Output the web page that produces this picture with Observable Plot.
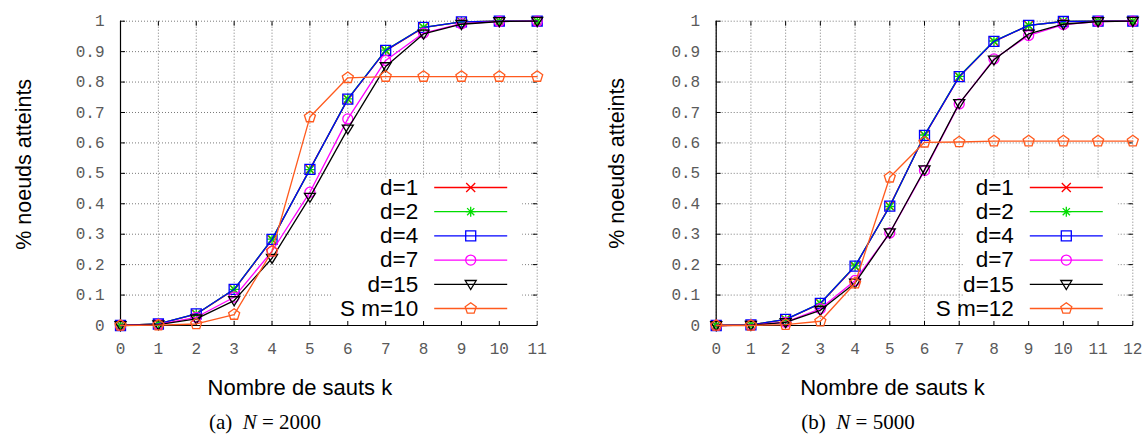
<!DOCTYPE html>
<html><head><meta charset="utf-8">
<script src="https://cdn.jsdelivr.net/npm/d3@7"></script>
<script src="https://cdn.jsdelivr.net/npm/@observablehq/plot@0.6"></script>
<style>
body{margin:0;background:#fff;}
#wrap{position:relative;width:1148px;height:435px;overflow:hidden;background:#fff;}
.panel{position:absolute;top:0;}
.cap{position:absolute;top:412px;font-family:"Liberation Serif","Times New Roman",serif;font-size:21px;line-height:21px;white-space:nowrap;transform:translateX(-50%);color:#000;}
</style></head><body>
<div id="wrap">
  <div id="left" class="panel" style="left:0px"></div>
  <div id="right" class="panel" style="left:574px"></div>
  <div class="cap" style="left:265px">(a)&nbsp; <i>N</i> = 2000</div>
  <div class="cap" style="left:858px">(b)&nbsp; <i>N</i> = 5000</div>
</div>
<script>
// ---------- data ----------
const hopsA = [0,1,2,3,4,5,6,7,8,9,10,11];
const d1A  = [0, 0.005, 0.037, 0.118, 0.282, 0.514, 0.743, 0.903, 0.979, 0.998, 1, 1];
const d2A  = [0, 0.005, 0.038, 0.119, 0.284, 0.512, 0.745, 0.905, 0.980, 0.998, 1, 1];
const d4A  = [0, 0.005, 0.038, 0.119, 0.283, 0.513, 0.744, 0.904, 0.980, 0.998, 1, 1];
const d7A  = [0, 0.004, 0.027, 0.093, 0.244, 0.438, 0.679, 0.871, 0.961, 0.992, 0.999, 1];
const d15A = [0, 0.003, 0.022, 0.082, 0.221, 0.422, 0.646, 0.851, 0.958, 0.990, 0.999, 1];
const sA   = [0, 0.001, 0.005, 0.036, 0.244, 0.685, 0.814, 0.818, 0.818, 0.818, 0.818, 0.818];

const hopsB = [0,1,2,3,4,5,6,7,8,9,10,11,12];
const d1B  = [0, 0.002, 0.019, 0.072, 0.194, 0.393, 0.624, 0.817, 0.933, 0.986, 0.999, 1, 1];
const d2B  = [0, 0.002, 0.020, 0.073, 0.196, 0.391, 0.626, 0.819, 0.935, 0.986, 0.999, 1, 1];
const d4B  = [0, 0.002, 0.020, 0.073, 0.195, 0.392, 0.625, 0.818, 0.934, 0.986, 0.999, 1, 1];
const d7B  = [0, 0.001, 0.011, 0.055, 0.148, 0.304, 0.509, 0.728, 0.876, 0.953, 0.989, 0.999, 1];
const d15B = [0, 0.001, 0.010, 0.050, 0.140, 0.305, 0.512, 0.730, 0.873, 0.958, 0.990, 0.999, 1];
const sB   = [0, 0.000, 0.003, 0.014, 0.139, 0.487, 0.602, 0.603, 0.606, 0.606, 0.606, 0.606, 0.606];

const labelsA = ["d=1","d=2","d=4","d=7","d=15","S m=10"];
const labelsB = ["d=1","d=2","d=4","d=7","d=15","S m=12"];
const colors  = ["#ff0000","#00dd00","#0000ff","#ff00ff","#000000","#ff5a1e"];
const markers = ["cross","asterisk","square","circle","triDown","pentagon"];

const yTicks = [0,0.1,0.2,0.3,0.4,0.5,0.6,0.7,0.8,0.9,1];
const yTickLabels = ["0","0.1","0.2","0.3","0.4","0.5","0.6","0.7","0.8","0.9","1"];
const xTicksA = hopsA;
const xTicksB = hopsB;
const xTitle = "Nombre de sauts k";
const yTitle = "% noeuds atteints";

// ---------- symbols ----------
const sym = {
  cross: {draw(c){const h=4.5;c.moveTo(-h,-h);c.lineTo(h,h);c.moveTo(-h,h);c.lineTo(h,-h);}},
  asterisk: {draw(c){const h=5,k=3.6;c.moveTo(-h,0);c.lineTo(h,0);c.moveTo(0,-h);c.lineTo(0,h);c.moveTo(-k,-k);c.lineTo(k,k);c.moveTo(-k,k);c.lineTo(k,-k);}},
  square: {draw(c){c.rect(-5,-5,10,10);}},
  circle: {draw(c){c.moveTo(5,0);c.arc(0,0,5,0,2*Math.PI);}},
  triDown: {draw(c){c.moveTo(-5.5,-3.8);c.lineTo(5.5,-3.8);c.lineTo(0,5.2);c.closePath();}},
  pentagon: {draw(c){for(let i=0;i<5;i++){const a=-Math.PI/2+i*2*Math.PI/5;const x=5.8*Math.cos(a),y=5.8*Math.sin(a); if(i) c.lineTo(x,y); else c.moveTo(x,y);} c.closePath();}}
};
const tickSym = (dx,dy)=>({draw(c){c.moveTo(0,0);c.lineTo(dx,dy);}});
const hLine = (half)=>({draw(c){c.moveTo(-half,0);c.lineTo(half,0);}});
const boxSym = (x0,x1,h)=>({draw(c){c.rect(x0,-h,x1-x0,h);}});

const sansFont = "'Liberation Sans', Arial, Helvetica, sans-serif";
const monoFont = "'Liberation Mono', 'Courier New', monospace";

function panel({hops, series, labels, xTicks, marginLeft, marginRight, keyX0, xLabelDx, yLabelDx, yLabelDy}) {
  const gridStyle = {stroke:"#7a7a7a", strokeDasharray:"1,2", strokeWidth:1};
  const marks = [
    Plot.ruleX(xTicks, {x:d=>d, ...gridStyle}),
    Plot.ruleY(yTicks, {y:d=>d, ...gridStyle}),
    // opaque key box
    Plot.dot([0], {frameAnchor:"bottom-right", r:5, symbol: boxSym(keyX0,-15,148), fill:"white", stroke:"none"}),
    // inward ticks on all four sides
    Plot.dot(yTicks, {y:d=>d, frameAnchor:"left", r:5, symbol: tickSym(4.5,0), stroke:"#000", strokeWidth:1}),
    Plot.dot(yTicks, {y:d=>d, frameAnchor:"right", r:5, symbol: tickSym(-4.5,0), stroke:"#000", strokeWidth:1}),
    Plot.dot(xTicks, {x:d=>d, frameAnchor:"bottom", r:5, symbol: tickSym(0,-4.5), stroke:"#000", strokeWidth:1}),
    Plot.dot(xTicks, {x:d=>d, frameAnchor:"top", r:5, symbol: tickSym(0,4.5), stroke:"#000", strokeWidth:1}),
    // left and bottom border
    Plot.ruleX([xTicks[0]], {x:d=>d, stroke:"#000", strokeWidth:1.2}),
    Plot.ruleY([yTicks[0]], {y:d=>d, stroke:"#000", strokeWidth:1.2}),
    // tick labels
    Plot.axisX({ticks: xTicks, label: null, tickSize:0, tickPadding:17, fontSize:16, fontFamily: monoFont, fill:"#5a5a5a", tickFormat: d=>String(d)}),
    Plot.axisY({ticks: yTicks, label: null, tickSize:0, tickPadding:16, fontSize:16, fontFamily: monoFont, fill:"#5a5a5a", tickFormat: (d,i)=>yTickLabels[i]}),
  ];
  series.forEach((vals, i) => {
    const rows = hops.map((k, j) => ({k, v: vals[j]}));
    marks.push(Plot.line(rows, {x:"k", y:"v", stroke: colors[i], strokeWidth:1.3}));
    marks.push(Plot.dot(rows, {x:"k", y:"v", r:5, symbol: sym[markers[i]], stroke: colors[i], fill:"none", strokeWidth:1.3}));
  });
  labels.forEach((lab, i) => {
    const dy = -138 + i*24.2;
    marks.push(Plot.text([lab], {frameAnchor:"bottom-right", dx:-119, dy, textAnchor:"end", lineAnchor:"middle", fontSize:22.5, fontFamily: sansFont, fill:"#000"}));
    marks.push(Plot.dot([0], {frameAnchor:"bottom-right", dx:-66.5, dy, r:5, symbol: hLine(36.5), stroke: colors[i], strokeWidth:1.3}));
    marks.push(Plot.dot([0], {frameAnchor:"bottom-right", dx:-66.5, dy, r:5, symbol: sym[markers[i]], stroke: colors[i], fill:"none", strokeWidth:1.3}));
  });
  marks.push(Plot.text([xTitle], {frameAnchor:"bottom", dx:xLabelDx, dy:62, textAnchor:"middle", lineAnchor:"middle", fontSize:22, fontFamily: sansFont, fill:"#000"}));
  marks.push(Plot.text([yTitle], {frameAnchor:"left", dx:yLabelDx, dy:yLabelDy, rotate:-90, textAnchor:"middle", lineAnchor:"middle", fontSize:21.5, fontFamily: sansFont, fill:"#000"}));

  return Plot.plot({
    width: 574, height: 400,
    marginLeft, marginRight, marginTop: 20.7, marginBottom: 75,
    x: {domain: [xTicks[0], xTicks[xTicks.length-1]], axis: null, label: null},
    y: {domain: [yTicks[0], yTicks[yTicks.length-1]], axis: null, label: null},
    style: {background: "white", overflow: "visible", fontFamily: sansFont},
    marks
  });
}

document.getElementById("left").appendChild(panel({
  hops: hopsA, series: [d1A,d2A,d4A,d7A,d15A,sA], labels: labelsA, xTicks: xTicksA,
  marginLeft: 120, marginRight: 37.3, keyX0: -205, xLabelDx: -29, yLabelDx: -96, yLabelDy: -9
}));
document.getElementById("right").appendChild(panel({
  hops: hopsB, series: [d1B,d2B,d4B,d7B,d15B,sB], labels: labelsB, xTicks: xTicksB,
  marginLeft: 141.7, marginRight: 15.7, keyX0: -169, xLabelDx: -32, yLabelDx: -99, yLabelDy: -10
}));
</script>
</body></html>
